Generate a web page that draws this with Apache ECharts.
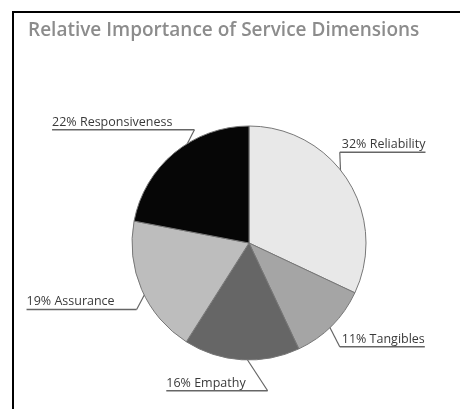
<!DOCTYPE html>
<html>
<head>
<meta charset="utf-8">
<script src="https://cdn.jsdelivr.net/npm/echarts@6/dist/echarts.min.js"></script>
<style>
  html, body { margin: 0; padding: 0; background: #fff; }
  #wrap { position: relative; width: 460px; height: 409px; overflow: hidden; }
  #frame { position: absolute; left: 12px; top: 11px; right: -10px; bottom: -10px;
           border-top: 2px solid #000; border-left: 2px solid #000; }
  #chart { position: absolute; left: 0; top: 0; width: 460px; height: 409px; }
</style>
</head>
<body>
<div id="wrap"><div id="frame"></div><div id="chart"></div></div>
<script>
// ---- data ----
const TITLE = 'Relative Importance of Service Dimensions';
const CATEGORIES = ['Reliability', 'Tangibles', 'Empathy', 'Assurance', 'Responsiveness'];
const VALUES = [32, 11, 16, 19, 22];
const COLORS = ['#e8e8e8', '#a5a5a5', '#666666', '#bdbdbd', '#060606'];
// label nudges (annotation placement relative to slice edge), in px
const LABEL_NUDGE = [[-8, -28], [8, 21], [26, 31], [-5, 20], [20, -23]];

const FONT = '"Open Sans", Lato, "DejaVu Sans", sans-serif';
const total = VALUES.reduce((a, b) => a + b, 0);
function isLeftSide(i) {
  let cum = 0;
  for (let k = 0; k < i; k++) cum += VALUES[k];
  const mid = (cum + VALUES[i] / 2) / total;
  return mid > 0.5;
}

const chart = echarts.init(document.getElementById('chart'), null, { renderer: 'canvas' });
chart.setOption({
  animation: false,
  backgroundColor: 'transparent',
  title: {
    text: TITLE,
    left: 23, top: 16,
    textStyle: { fontFamily: FONT, fontSize: 19, fontWeight: 600, color: '#8c8c8c' }
  },
  series: [{
    type: 'pie',
    center: [249, 243],
    radius: 117,
    startAngle: 90,
    clockwise: true,
    itemStyle: { borderColor: '#777', borderWidth: 1 },
    data: CATEGORIES.map((c, i) => ({ name: c, value: VALUES[i], itemStyle: { color: COLORS[i] } })),
    label: {
      show: true,
      position: 'outside',
      overflow: 'none',
      bleedMargin: 0,
      formatter: (p) => (isLeftSide(p.dataIndex) ? '{tl|' : '{tr|') + p.value + '% ' + p.name + '}\n{u|}\n{f| }',
      rich: {
        tr: { fontFamily: FONT, fontSize: 12.5, color: '#3a3a3a', height: 14, lineHeight: 14, padding: [0, 0, 0, 2] },
        tl: { fontFamily: FONT, fontSize: 12.5, color: '#3a3a3a', height: 14, lineHeight: 14, padding: [0, 22, 0, 0] },
        u: { width: '100%', height: 1.5, backgroundColor: '#666' },
        f: { fontSize: 11, height: 14, lineHeight: 14 }
      }
    },
    labelLine: { show: true, length: 12, length2: 4, lineStyle: { color: '#666', width: 1.2 } },
    labelLayout: function (params) {
      const pts = params.labelLinePoints;
      if (!pts) return {};
      const i = params.dataIndex;
      const p0 = pts[0], p1 = pts[1];
      const dx = p1[0] - p0[0], dy = p1[1] - p0[1];
      const len = Math.sqrt(dx * dx + dy * dy) || 1;
      const start = [p0[0] - 8 * dx / len, p0[1] - 8 * dy / len];
      const end = [p0[0] + LABEL_NUDGE[i][0], p0[1] + LABEL_NUDGE[i][1]];
      const left = isLeftSide(i);
      return {
        x: end[0], y: end[1],
        align: left ? 'right' : 'left',
        verticalAlign: 'middle',
        labelLinePoints: [start, end]
      };
    }
  }]
});
</script>
</body>
</html>
